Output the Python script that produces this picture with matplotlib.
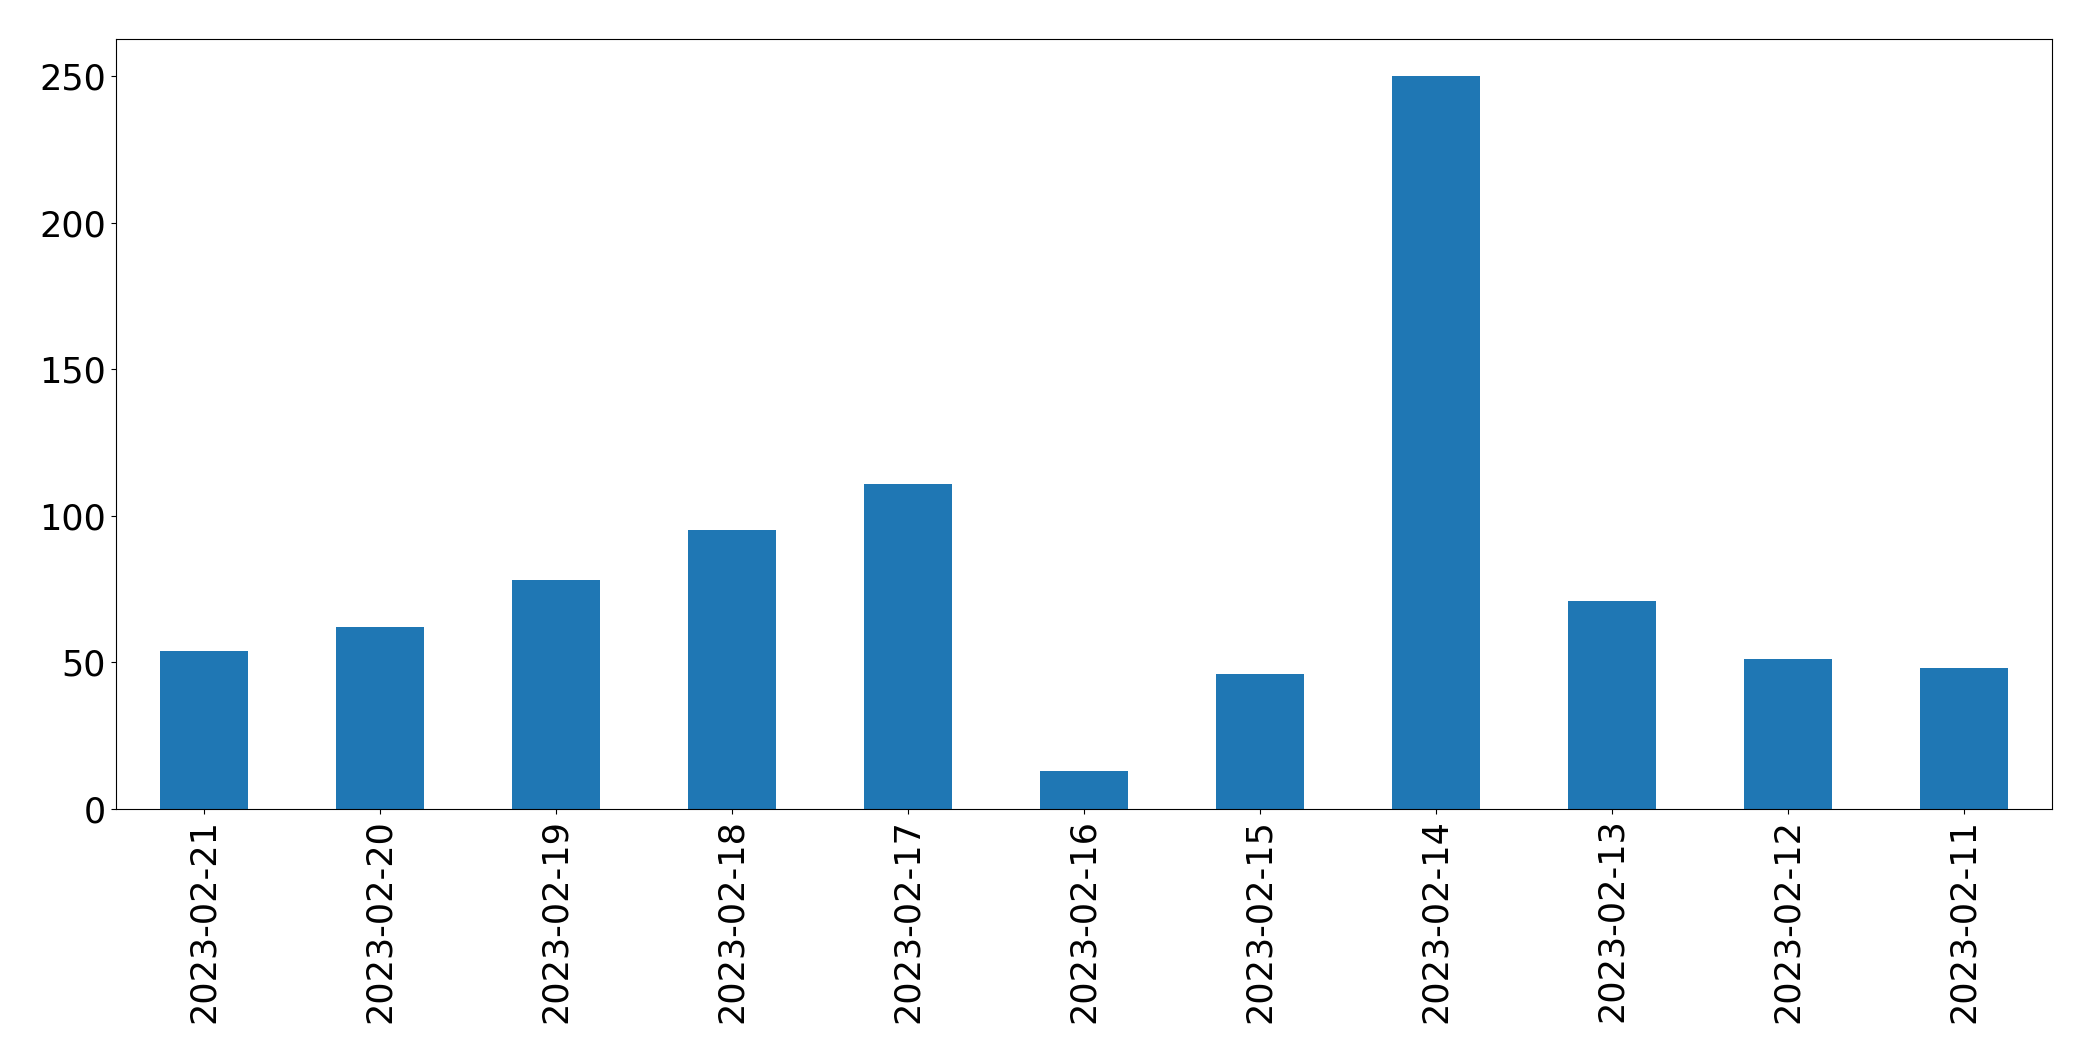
import pandas as pd
import matplotlib
matplotlib.use('Agg')
import matplotlib.pyplot as plt

# dates (x labels) and counts
dates = ['2023-02-21', '2023-02-20', '2023-02-19', '2023-02-18', '2023-02-17',
         '2023-02-16', '2023-02-15', '2023-02-14', '2023-02-13', '2023-02-12',
         '2023-02-11']
counts = [54, 62, 78, 95, 111, 13, 46, 250, 71, 51, 48]

s = pd.Series(counts, index=dates)

fig, ax = plt.subplots(figsize=(20.93, 10.61), dpi=100)
s.plot(kind='bar', ax=ax, color='#1f77b4')

ax.tick_params(axis='both', labelsize=25.2)
ax.set_yticks([0, 50, 100, 150, 200, 250])

fig.subplots_adjust(left=0.0554, right=0.9805, top=0.963, bottom=0.2375)
plt.savefig('out.png', dpi=100)
